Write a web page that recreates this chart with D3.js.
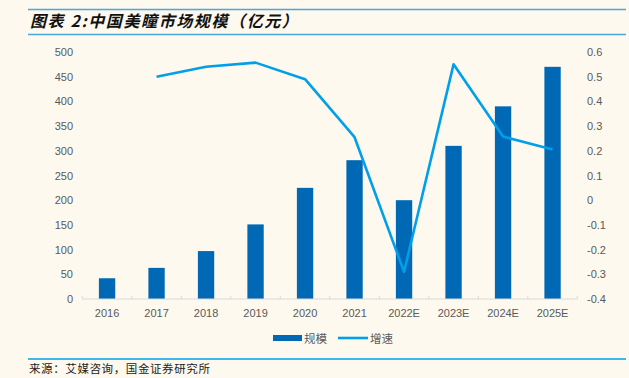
<!DOCTYPE html>
<html>
<head>
<meta charset="utf-8">
<script src="https://cdn.jsdelivr.net/npm/d3@7"></script>
<style>
  body { margin: 0; background: #fdf9ef; }
  svg { display: block; }
  text { font-family: "Liberation Sans", Arial, "Noto Sans CJK SC", sans-serif; }
</style>
</head>
<body>
<svg id="chart" width="629" height="378"></svg>
<script>
// data
var years = ['2016', '2017', '2018', '2019', '2020', '2021', '2022E', '2023E', '2024E', '2025E']
var scale = [42, 63, 97, 151, 225, 281, 200, 310, 390, 470]
var growth = [null, 0.50, 0.54, 0.557, 0.49, 0.255, -0.29, 0.55, 0.258, 0.205]
var leftTicks = [0, 50, 100, 150, 200, 250, 300, 350, 400, 450, 500]
var rightTicks = [-0.4, -0.3, -0.2, -0.1, 0, 0.1, 0.2, 0.3, 0.4, 0.5, 0.6]

var barColor = '#0068b4', lineColor = '#00a0e9', tickColor = '#595959'

var svg = d3.select('#chart')

// header and footer rules
svg.append('line').attr('x1', 28).attr('x2', 626).attr('y1', 9.5).attr('y2', 9.5)
        .attr('stroke', '#4aa9dc').attr('stroke-width', 1.6)
svg.append('line').attr('x1', 28).attr('x2', 626).attr('y1', 34.5).attr('y2', 34.5)
        .attr('stroke', '#4aa9dc').attr('stroke-width', 1.6)
svg.append('line').attr('x1', 28).attr('x2', 626).attr('y1', 359).attr('y2', 359)
        .attr('stroke', lineColor).attr('stroke-width', 1.4)

svg.append('text').attr('x', 30).attr('y', 27)
        .attr('font-size', 16).attr('font-weight', 'bold').attr('font-style', 'italic')
        .attr('letter-spacing', 1.6)
        .style('font-family', '"Noto Sans CJK SC", sans-serif')
        .attr('fill', '#111')
        .text('图表 2:中国美瞳市场规模（亿元）')

svg.append('text').attr('x', 29).attr('y', 373)
        .attr('font-size', 11.5).attr('fill', '#222').attr('letter-spacing', 0.6)
        .style('font-family', '"Noto Sans CJK SC", sans-serif')
        .text('来源：艾媒咨询，国金证券研究所')

var x = d3.scaleBand().domain(years).range([82.3, 577.3]).paddingInner(0.67).paddingOuter(0.335)
var xb = d3.scaleBand().domain(years).range([82.3, 577.3])
var yL = d3.scaleLinear().domain([0, 500]).range([299, 52])
var yR = d3.scaleLinear().domain([-0.4, 0.6]).range([299, 52])

// left axis labels
svg.append('g').selectAll('text').data(leftTicks).enter()
        .append('text')
        .attr('x', 73).attr('y', function (d) { return yL(d) + 4 })
        .attr('text-anchor', 'end').attr('font-size', 11).attr('fill', tickColor)
        .text(function (d) { return d })

// right axis labels (plain hyphen minus, like the source)
svg.append('g').selectAll('text').data(rightTicks).enter()
        .append('text')
        .attr('x', 587).attr('y', function (d) { return yR(d) + 4 })
        .attr('font-size', 11).attr('fill', tickColor)
        .text(function (d) { return String(+d.toFixed(1)) })

// bars
svg.append('g').selectAll('rect').data(scale).enter()
        .append('rect')
        .attr('x', function (d, i) { return x(years[i]) })
        .attr('width', x.bandwidth())
        .attr('y', function (d) { return yL(d) })
        .attr('height', function (d) { return yL(0) - yL(d) })
        .attr('fill', barColor)

// x axis
var xAxis = svg.append('g').attr('transform', 'translate(0,299)')
xAxis.append('line').attr('x1', 82.3).attr('x2', 577.3).attr('stroke', '#d9d9d9')
xAxis.selectAll('line.tick').data(years.concat(['end'])).enter()
        .append('line').attr('class', 'tick')
        .attr('x1', function (d, i) { return 82.3 + i * xb.bandwidth() })
        .attr('x2', function (d, i) { return 82.3 + i * xb.bandwidth() })
        .attr('y1', 0).attr('y2', -3).attr('stroke', '#d9d9d9')
xAxis.selectAll('text').data(years).enter()
        .append('text')
        .attr('x', function (d) { return xb(d) + xb.bandwidth() / 2 })
        .attr('y', 18).attr('text-anchor', 'middle')
        .attr('font-size', 11).attr('fill', tickColor)
        .text(function (d) { return d })

// growth line
var line = d3.line()
        .defined(function (d) { return d != null })
        .x(function (d, i) { return xb(years[i]) + xb.bandwidth() / 2 })
        .y(function (d) { return yR(d) })
svg.append('path').datum(growth)
        .attr('d', line).attr('fill', 'none')
        .attr('stroke', lineColor).attr('stroke-width', 2.6)
        .attr('stroke-linejoin', 'round')

// legend
var leg = svg.append('g').attr('transform', 'translate(0,338)')
leg.append('rect').attr('x', 273).attr('y', -3).attr('width', 29).attr('height', 6).attr('fill', barColor)
leg.append('text').attr('x', 304).attr('y', 4.5).attr('font-size', 11.5).attr('fill', tickColor)
        .style('font-family', '"Noto Sans CJK SC", sans-serif').text('规模')
leg.append('line').attr('x1', 338).attr('x2', 368).attr('y1', 0).attr('y2', 0)
        .attr('stroke', lineColor).attr('stroke-width', 2.6)
leg.append('text').attr('x', 370).attr('y', 4.5).attr('font-size', 11.5).attr('fill', tickColor)
        .style('font-family', '"Noto Sans CJK SC", sans-serif').text('增速')
</script>
</body>
</html>
